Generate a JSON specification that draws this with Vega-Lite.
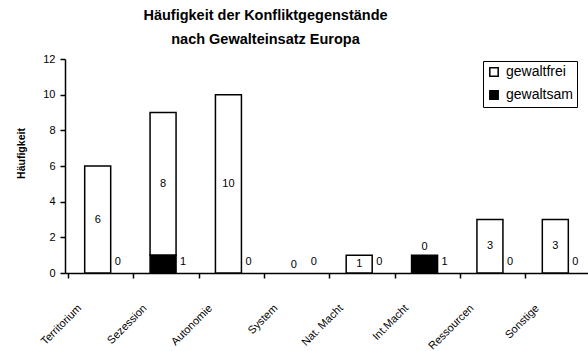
{
  "$schema": "https://vega.github.io/schema/vega-lite/v6.json",
  "width": 523,
  "height": 214,
  "autosize": {"type": "none"},
  "padding": {"left": 65, "top": 59, "right": 0, "bottom": 78},
  "background": "white",
  "config": {
    "font": "Liberation Sans",
    "view": {"stroke": null},
    "axis": {"grid": false, "ticks": true, "domainColor": "black", "tickColor": "black", "labelColor": "black", "titleColor": "black", "domainWidth": 1.5, "tickWidth": 1.5, "tickSize": 5},
    "axisY": {"tickCount": 6, "labelOverlap": false, "labelFontSize": 11, "labelPadding": 5, "titleFontSize": 10.5, "titleFontWeight": "bold", "titleX": -44, "titleY": 94, "titleAlign": "center", "titleBaseline": "middle"}
  },
  "title": {
    "text": ["Häufigkeit der Konfliktgegenstände", "nach Gewalteinsatz Europa"],
    "fontSize": 14.5,
    "fontWeight": "bold",
    "color": "black",
    "lineHeight": 24,
    "anchor": "middle",
    "dx": -61,
    "offset": 6
  },
  "data": {
    "values": [
      {"Gegenstand": "Territorium", "gewaltfrei": 6, "gewaltsam": 0},
      {"Gegenstand": "Sezession", "gewaltfrei": 8, "gewaltsam": 1},
      {"Gegenstand": "Autonomie", "gewaltfrei": 10, "gewaltsam": 0},
      {"Gegenstand": "System", "gewaltfrei": 0, "gewaltsam": 0},
      {"Gegenstand": "Nat. Macht", "gewaltfrei": 1, "gewaltsam": 0},
      {"Gegenstand": "Int.Macht", "gewaltfrei": 0, "gewaltsam": 1},
      {"Gegenstand": "Ressourcen", "gewaltfrei": 3, "gewaltsam": 0},
      {"Gegenstand": "Sonstige", "gewaltfrei": 3, "gewaltsam": 0}
    ]
  },
  "encoding": {
    "x": {
      "field": "Gegenstand",
      "type": "nominal",
      "sort": null,
      "title": null,
      "scale": {"domain": ["Territorium", "Sezession", "Autonomie", "System", "Nat. Macht", "Int.Macht", "Ressourcen", "Sonstige"]},
      "axis": {"labelAngle": -45, "labelFontSize": 11, "labelPadding": 24, "labelOffset": -22, "bandPosition": 0, "labelOverlap": false}
    }
  },
  "layer": [
    {
      "transform": [{"fold": ["gewaltfrei", "gewaltsam"], "as": ["Art", "n"]}, {"filter": "datum.n > 0"}],
      "mark": {"type": "bar", "size": 26, "stroke": "black", "strokeWidth": 1.5},
      "encoding": {
        "y": {
          "field": "n",
          "type": "quantitative",
          "stack": "zero",
          "scale": {"domain": [0, 12]},
          "title": "Häufigkeit"
        },
        "color": {
          "field": "Art",
          "type": "nominal",
          "scale": {"domain": ["gewaltfrei", "gewaltsam"], "range": ["white", "black"]},
          "legend": {
            "title": null,
            "orient": "none",
            "legendX": 418,
            "legendY": 2,
            "strokeColor": "black",
            "padding": 4,
            "symbolType": "square",
            "symbolSize": 70,
            "symbolStrokeColor": "black",
            "symbolStrokeWidth": 1.5,
            "labelFontSize": 14,
            "labelColor": "black",
            "rowPadding": 7,
            "labelOffset": 5
          }
        },
        "order": {"field": "Art", "sort": "descending"}
      }
    },
    {
      "transform": [{"filter": "datum.gewaltfrei > 0"}, {"calculate": "datum.gewaltsam + datum.gewaltfrei / 2", "as": "mitte"}],
      "mark": {"type": "text", "fontSize": 11, "color": "black", "baseline": "middle"},
      "encoding": {
        "y": {"field": "mitte", "type": "quantitative", "title": "Häufigkeit"},
        "text": {"field": "gewaltfrei", "type": "quantitative"}
      }
    },
    {
      "transform": [{"filter": "datum.gewaltfrei == 0"}],
      "mark": {"type": "text", "fontSize": 11, "color": "black", "baseline": "middle", "dy": -8},
      "encoding": {
        "y": {"field": "gewaltsam", "type": "quantitative", "title": "Häufigkeit"},
        "text": {"field": "gewaltfrei", "type": "quantitative"}
      }
    },
    {
      "mark": {"type": "text", "fontSize": 11, "color": "black", "baseline": "middle", "dx": 20, "dy": -11},
      "encoding": {
        "y": {"datum": 0, "type": "quantitative", "title": "Häufigkeit"},
        "text": {"field": "gewaltsam", "type": "quantitative"}
      }
    }
  ]
}
